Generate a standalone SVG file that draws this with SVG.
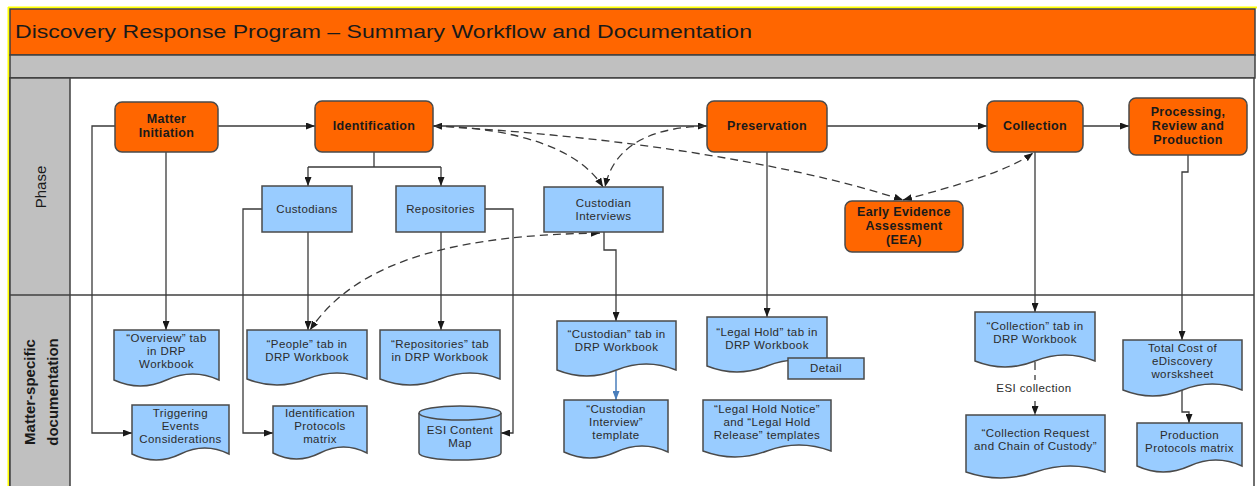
<svg xmlns="http://www.w3.org/2000/svg" width="1257" height="486" viewBox="0 0 1257 486">
  <defs>
    <style>
      text { font-family: "Liberation Sans", Arial, sans-serif; }
      .nb { font-size: 12.5px; font-weight: bold; fill: #1a1a1a; text-anchor: middle; letter-spacing: 0.35px; }
      .dt { font-size: 11.5px; fill: #2b2b2b; text-anchor: middle; letter-spacing: 0.4px; }
      .lane { font-size: 15px; fill: #1a1a1a; text-anchor: middle; }
      .phase { fill: #FF6600; stroke: #4a4a4a; stroke-width: 1.5; }
      .blue { fill: #99CCFF; stroke: #4a4a4a; stroke-width: 1.5; }
      .ln { fill: none; stroke: #3a3a3a; stroke-width: 1.3; }
      .dash { fill: none; stroke: #3a3a3a; stroke-width: 1.3; stroke-dasharray: 8 5; }
      .frame { stroke: #404040; stroke-width: 1.5; }
    </style>
    <marker id="arr" markerUnits="userSpaceOnUse" markerWidth="9" markerHeight="7" refX="9" refY="3.5" orient="auto-start-reverse">
      <path d="M0,0 L9,3.5 L0,7 Z" fill="#1a1a1a"/>
    </marker>
    <marker id="arrBlue" markerUnits="userSpaceOnUse" markerWidth="9" markerHeight="7" refX="9" refY="3.5" orient="auto">
      <path d="M0,0 L9,3.5 L0,7 Z" fill="#4a7ebb"/>
    </marker>
  </defs>

  <!-- page background and frame -->
  <rect x="0" y="0" width="1257" height="486" fill="#ffffff"/>
  <line x1="8" y1="7.5" x2="1257" y2="7.5" stroke="#FFFF00" stroke-width="2"/>
  <line x1="8.5" y1="7" x2="8.5" y2="486" stroke="#FFFF00" stroke-width="2"/>

  <g id="header">
    <rect x="10" y="9" width="1245" height="46" fill="#FF6600" class="frame"/>
    <text x="15" y="38" font-size="18" fill="#1a1a1a" textLength="737" lengthAdjust="spacingAndGlyphs">Discovery Response Program – Summary Workflow and Documentation</text>
    <rect x="10" y="55" width="1245" height="23" fill="#C0C0C0" class="frame"/>
  </g>

  <g id="lanes">
    <rect x="10" y="78" width="1244" height="420" fill="#ffffff" class="frame"/>
    <rect x="10" y="78" width="60" height="420" fill="#C0C0C0" class="frame"/>
    <line x1="10" y1="295" x2="1254" y2="295" class="frame"/>
    <text class="lane" transform="translate(46,187) rotate(-90)">Phase</text>
    <text class="lane" font-weight="bold" transform="translate(35,392) rotate(-90)">Matter-specific<tspan x="0" dy="23">documentation</tspan></text>
  </g>

  <!-- connectors -->
  <g id="connectors">
    <path class="ln" d="M218,126 H315" marker-end="url(#arr)"/>
    <path class="ln" d="M433,126 H707" marker-end="url(#arr)"/>
    <path class="ln" d="M827,126 H987" marker-end="url(#arr)"/>
    <path class="ln" d="M1083,126 H1129" marker-end="url(#arr)"/>
    <path class="ln" d="M374,152 V167 M308,167 H441"/>
    <path class="ln" d="M308,167 V186" marker-end="url(#arr)"/>
    <path class="ln" d="M441,167 V186" marker-end="url(#arr)"/>
    <path class="ln" d="M166,152 V330" marker-end="url(#arr)"/>
    <path class="ln" d="M115,126 H92 V433 H132" marker-end="url(#arr)"/>
    <path class="ln" d="M262,209 H243 V433 H273" marker-end="url(#arr)"/>
    <path class="ln" d="M308,232 V330" marker-end="url(#arr)"/>
    <path class="ln" d="M441,232 V330" marker-end="url(#arr)"/>
    <path class="ln" d="M485,209 H513 V433 H501" marker-end="url(#arr)"/>
    <path class="ln" d="M604,232 V250 H616 V321" marker-end="url(#arr)"/>
    <path d="M616,371 V400" fill="none" stroke="#4a7ebb" stroke-width="1.5" marker-end="url(#arrBlue)"/>
    <path class="ln" d="M767,152 V317" marker-end="url(#arr)"/>
    <path class="ln" d="M1035,152 V312" marker-end="url(#arr)"/>
    <path class="ln" d="M1188,155 V172 H1182 V340" marker-end="url(#arr)"/>
    <path class="ln" d="M1182,389 V412 H1189 V423" marker-end="url(#arr)"/>

    <path class="dash" d="M433,126 C520,128 580,150 603,187" marker-start="url(#arr)" marker-end="url(#arr)"/>
    <path class="dash" d="M707,126 C660,127 615,140 605,187" marker-end="url(#arr)"/>
    <path class="dash" d="M433,126 C600,135 780,160 903,200" marker-end="url(#arr)"/>
    <path class="dash" d="M903,200 C960,185 1010,170 1033,153" marker-start="url(#arr)" marker-end="url(#arr)"/>
    <path class="dash" d="M600,233 C470,235 360,255 310,330" marker-start="url(#arr)" marker-end="url(#arr)"/>

    <path class="dash" d="M1035,362 V415" marker-end="url(#arr)"/>
    <rect x="992" y="380" width="86" height="16" fill="#ffffff"/>
    <text class="dt" x="1034" y="392">ESI collection</text>
  </g>

  <!-- phase steps -->
  <g id="matter-initiation">
    <rect class="phase" x="115" y="102" width="103" height="50" rx="7"/>
    <text class="nb" x="166.5" y="123.4">Matter<tspan x="166.5" dy="14">Initiation</tspan></text>
  </g>
  <g id="identification">
    <rect class="phase" x="315" y="101" width="118" height="51" rx="7"/>
    <text class="nb" x="374" y="130.4">Identification</text>
  </g>
  <g id="preservation">
    <rect class="phase" x="707" y="101" width="120" height="51" rx="7"/>
    <text class="nb" x="767" y="130.4">Preservation</text>
  </g>
  <g id="collection">
    <rect class="phase" x="987" y="101" width="96" height="51" rx="7"/>
    <text class="nb" x="1035" y="130.4">Collection</text>
  </g>
  <g id="processing">
    <rect class="phase" x="1129" y="98" width="118" height="57" rx="7"/>
    <text class="nb" x="1188" y="116.4">Processing,<tspan x="1188" dy="14">Review and</tspan><tspan x="1188" dy="14">Production</tspan></text>
  </g>
  <g id="eea">
    <rect class="phase" x="845" y="201" width="118" height="51" rx="7"/>
    <text class="nb" x="904" y="216.4">Early Evidence<tspan x="904" dy="14">Assessment</tspan><tspan x="904" dy="14">(EEA)</tspan></text>
  </g>

  <!-- identification sub-steps -->
  <g id="custodians">
    <rect class="blue" x="262" y="186" width="90" height="46"/>
    <text class="dt" x="307" y="213">Custodians</text>
  </g>
  <g id="repositories">
    <rect class="blue" x="396" y="186" width="89" height="46"/>
    <text class="dt" x="440.5" y="213">Repositories</text>
  </g>
  <g id="custodian-interviews">
    <rect class="blue" x="544" y="187" width="119" height="45"/>
    <text class="dt" x="603.5" y="206.5">Custodian<tspan x="603.5" dy="13">Interviews</tspan></text>
  </g>

  <!-- matter-specific documents -->
  <g id="doc-overview">
    <path class="blue" d="M114,330 H219 V380 Q192.75,368 166.5,380 T114,380 Z"/>
    <text class="dt" x="166.5" y="342">“Overview” tab<tspan x="166.5" dy="13">in DRP</tspan><tspan x="166.5" dy="13">Workbook</tspan></text>
  </g>
  <g id="doc-people">
    <path class="blue" d="M247,330 H367 V379 Q337,367 307,379 T247,379 Z"/>
    <text class="dt" x="307" y="347.5">“People” tab in<tspan x="307" dy="13">DRP Workbook</tspan></text>
  </g>
  <g id="doc-repositories">
    <path class="blue" d="M380,330 H500 V379 Q470,367 440,379 T380,379 Z"/>
    <text class="dt" x="440" y="347.5">“Repositories” tab<tspan x="440" dy="13">in DRP Workbook</tspan></text>
  </g>
  <g id="doc-triggering">
    <path class="blue" d="M132,405 H229 V454 Q204.75,442 180.5,454 T132,454 Z"/>
    <text class="dt" x="180.5" y="417">Triggering<tspan x="180.5" dy="13">Events</tspan><tspan x="180.5" dy="13">Considerations</tspan></text>
  </g>
  <g id="doc-identification-protocols">
    <path class="blue" d="M273,406 H367 V453 Q343.5,441 320,453 T273,453 Z"/>
    <text class="dt" x="320" y="417">Identification<tspan x="320" dy="13">Protocols</tspan><tspan x="320" dy="13">matrix</tspan></text>
  </g>
  <g id="esi-content-map">
    <path class="blue" d="M419,413 A41,7 0 0 1 501,413 V453 A41,7 0 0 1 419,453 Z"/>
    <path d="M419,413 A41,7 0 0 0 501,413" fill="none" stroke="#4a4a4a" stroke-width="1.5"/>
    <text class="dt" x="460" y="433.5">ESI Content<tspan x="460" dy="13">Map</tspan></text>
  </g>
  <g id="doc-custodian-tab">
    <path class="blue" d="M557,321 H676 V370 Q646.25,358 616.5,370 T557,370 Z"/>
    <text class="dt" x="616.5" y="338">“Custodian” tab in<tspan x="616.5" dy="13">DRP Workbook</tspan></text>
  </g>
  <g id="doc-interview-template">
    <path class="blue" d="M564,400 H668 V452 Q642,440 616,452 T564,452 Z"/>
    <text class="dt" x="616" y="413">“Custodian<tspan x="616" dy="13">Interview”</tspan><tspan x="616" dy="13">template</tspan></text>
  </g>
  <g id="doc-legal-hold-tab">
    <path class="blue" d="M707,317 H827 V366 Q797,354 767,366 T707,366 Z"/>
    <text class="dt" x="767" y="335.5">“Legal Hold” tab in<tspan x="767" dy="13">DRP Workbook</tspan></text>
  </g>
  <g id="detail">
    <rect class="blue" x="788" y="358" width="76" height="21"/>
    <text class="dt" x="826" y="372">Detail</text>
  </g>
  <g id="doc-legal-hold-templates">
    <path class="blue" d="M703,400 H831 V451 Q799,439 767,451 T703,451 Z"/>
    <text class="dt" x="767" y="413">“Legal Hold Notice”<tspan x="767" dy="13">and “Legal Hold</tspan><tspan x="767" dy="13">Release” templates</tspan></text>
  </g>
  <g id="doc-collection-tab">
    <path class="blue" d="M975,312 H1095 V361 Q1065,349 1035,361 T975,361 Z"/>
    <text class="dt" x="1035" y="329.5">“Collection” tab in<tspan x="1035" dy="13">DRP Workbook</tspan></text>
  </g>
  <g id="doc-collection-request">
    <path class="blue" d="M966,415 H1105 V472 Q1070.25,460 1035.5,472 T966,472 Z"/>
    <text class="dt" x="1035.5" y="437">“Collection Request<tspan x="1035.5" dy="13">and Chain of Custody”</tspan></text>
  </g>
  <g id="doc-total-cost">
    <path class="blue" d="M1123,340 H1242 V390 Q1212.25,378 1182.5,390 T1123,390 Z"/>
    <text class="dt" x="1182.5" y="352">Total Cost of<tspan x="1182.5" dy="13">eDiscovery</tspan><tspan x="1182.5" dy="13">worsksheet</tspan></text>
  </g>
  <g id="doc-production-protocols">
    <path class="blue" d="M1137,423 H1242 V466 Q1215.75,454 1189.5,466 T1137,466 Z"/>
    <text class="dt" x="1189.5" y="438.5">Production<tspan x="1189.5" dy="13">Protocols matrix</tspan></text>
  </g>
</svg>
